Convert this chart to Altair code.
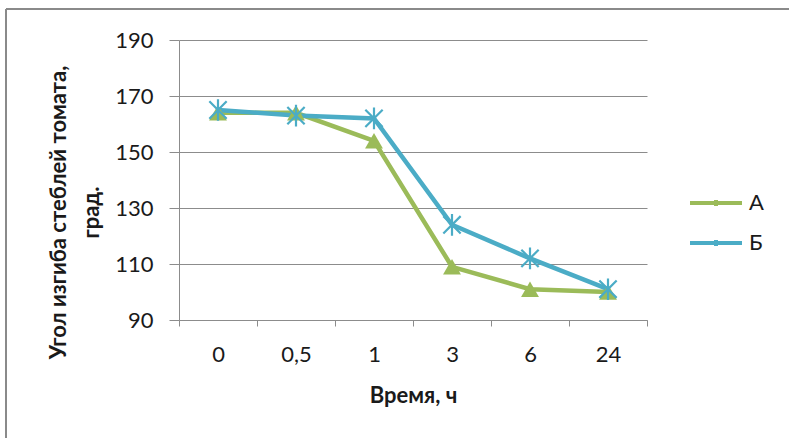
import altair as alt
import pandas as pd

# Time points (hours) and bending angle of tomato stems, degrees
times = ["0", "0,5", "1", "3", "6", "24"]
series_a = [164, 164, 154, 109, 101, 100]
series_b = [165, 163, 162, 124, 112, 101]
series_names = ["А", "Б"]
series_colors = ["#9BBB59", "#4BACC6"]
y_ticks = [90, 110, 130, 150, 170, 190]

df = pd.DataFrame({
    "time": times * 2,
    "value": series_a + series_b,
    "series": [series_names[0]] * len(times) + [series_names[1]] * len(times),
})

FONT = "Lato"
AXIS_GRAY = "#8c8c8c"
TEXT = "#1a1a1a"

# asterisk marker: an X crossed by a vertical stroke
ASTERISK = "M-1,-1L1,1M-1,1L1,-1M0,-1.25L0,1.25"
# legend symbol: a line with a small mark at its middle
LEGEND_SYMBOL = "M-1,0L1,0M0,-0.12L0,0.12"

x_enc = alt.X(
    "time:N",
    sort=times,
    scale=alt.Scale(type="band", paddingInner=0, paddingOuter=0),
    axis=alt.Axis(
        title="Время, ч",
        tickBand="extent",
        labelAngle=0,
        labelFont=FONT,
        labelFontSize=22,
        labelColor=TEXT,
        labelPadding=18,
        tickSize=6,
        tickColor=AXIS_GRAY,
        domainColor=AXIS_GRAY,
        grid=False,
        titleFont=FONT,
        titleFontSize=22,
        titleFontWeight="bold",
        titleColor=TEXT,
        titleBaseline="top",
        titleY=65,
    ),
)

y_enc = alt.Y(
    "value:Q",
    scale=alt.Scale(domain=[90, 190], nice=False, zero=False),
    axis=alt.Axis(
        title=["Угол изгиба стеблей томата,", "град."],
        values=y_ticks,
        labelFont=FONT,
        labelFontSize=22,
        labelColor=TEXT,
        labelPadding=16,
        tickSize=10,
        tickColor=AXIS_GRAY,
        domainColor=AXIS_GRAY,
        grid=True,
        gridColor=AXIS_GRAY,
        gridWidth=1,
        titleFont=FONT,
        titleFontSize=22,
        titleFontWeight="bold",
        titleColor=TEXT,
        titleAngle=270,
        titleAlign="center",
        titleBaseline="top",
        titleLineHeight=33,
        titleX=-131,
        titleY=172,
    ),
)

color_scale = alt.Scale(domain=series_names, range=series_colors)

base = alt.Chart(df)

lines = base.mark_line(strokeWidth=4.5).encode(
    x=x_enc,
    y=y_enc,
    color=alt.Color(
        "series:N",
        scale=color_scale,
        legend=alt.Legend(
            title=None,
            orient="none",
            legendX=509,
            legendY=135,
            symbolType=LEGEND_SYMBOL,
            symbolSize=2704,
            symbolStrokeWidth=4,
            labelFont=FONT,
            labelFontSize=22,
            labelColor=TEXT,
            labelOffset=5,
            rowPadding=0,
        ),
    ),
)

triangles = base.transform_filter(
    alt.datum.series == series_names[0]
).mark_point(shape="triangle-up", filled=True, size=320, opacity=1).encode(
    x=x_enc,
    y=y_enc,
    color=alt.Color("series:N", scale=color_scale, legend=None),
)

stars = base.transform_filter(
    alt.datum.series == series_names[1]
).mark_point(shape=ASTERISK, filled=False, size=300, strokeWidth=2.2, opacity=1).encode(
    x=x_enc,
    y=y_enc,
    color=alt.Color("series:N", scale=color_scale, legend=None),
)

# outer frame edges of the chart area
frame_src = pd.DataFrame({"k": [0]})
frame_top = alt.Chart(frame_src).mark_rule(color="#8a8a8a", strokeWidth=2).encode(
    x=alt.value(-173), x2=alt.value(612), y=alt.value(-31)
)
frame_left = alt.Chart(frame_src).mark_rule(color="#8a8a8a", strokeWidth=2).encode(
    x=alt.value(-173), y=alt.value(-31), y2=alt.value(400)
)

chart = alt.layer(frame_top, frame_left, lines, triangles, stars).properties(
    width=468,
    height=280,
    autosize=alt.AutoSizeParams(type="none"),
    padding={"left": 179, "top": 40, "right": 142, "bottom": 118},
    background="white",
).configure_view(stroke=None)

chart.save("out.html", embed_options={"renderer": "svg", "actions": False})
